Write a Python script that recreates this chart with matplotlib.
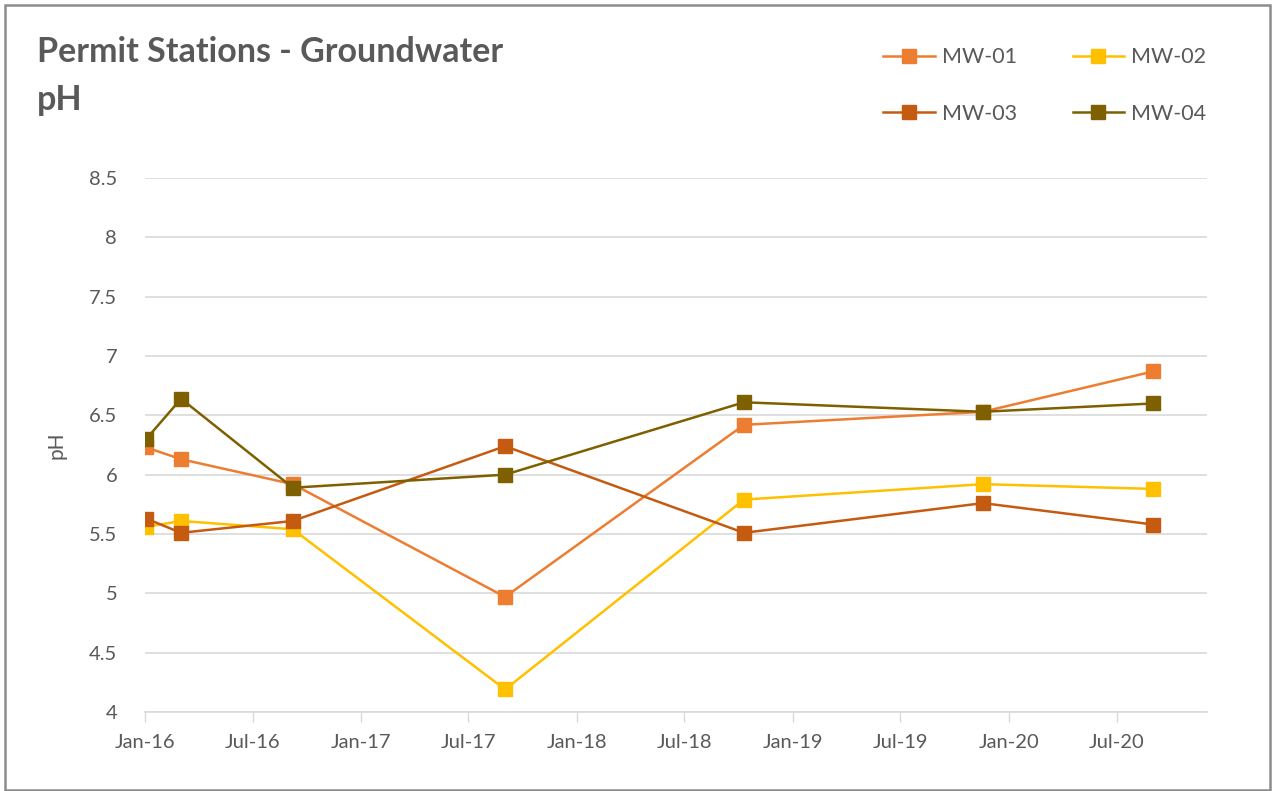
import matplotlib
matplotlib.use('Agg')
import numpy as np
import pandas as pd
import matplotlib.pyplot as plt
import matplotlib.dates as mdates
from matplotlib.patches import Rectangle

plt.rcParams['font.family'] = ['Lato', 'DejaVu Sans']

# sample dates
dates = pd.to_datetime(['2016-01-03', '2016-03-02', '2016-09-07', '2017-09-01',
                        '2018-10-10', '2019-11-18', '2020-09-01'])

mw01 = [6.23, 6.13, 5.92, 4.97, 6.42, 6.53, 6.87]
mw02 = [5.56, 5.61, 5.54, 4.19, 5.79, 5.92, 5.88]
mw03 = [5.63, 5.51, 5.61, 6.24, 5.51, 5.76, 5.58]
mw04 = [6.30, 6.64, 5.89, 6.00, 6.61, 6.53, 6.60]

series_names = ['MW-01', 'MW-02', 'MW-03', 'MW-04']
series_colors = ['#ED7D31', '#FFC000', '#C55A11', '#7F6000']

tick_dates = pd.date_range('2016-01-01', '2020-07-01', freq='6MS')
y_ticks = [4, 4.5, 5, 5.5, 6, 6.5, 7, 7.5, 8, 8.5]
y_labels = ['4', '4.5', '5', '5.5', '6', '6.5', '7', '7.5', '8', '8.5']

W, H = 1275, 791
fig = plt.figure(figsize=(W / 100, H / 100), dpi=100)
ax = fig.add_axes([145 / W, 1 - 712 / H, (1207 - 145) / W, (712 - 178) / H])

text_col = '#595959'
grid_col = '#D9D9D9'

lines = []
for vals, name, col in zip([mw01, mw02, mw03, mw04], series_names, series_colors):
    ln, = ax.plot(dates, vals, color=col, lw=1.8, marker='s', markersize=10,
                  markeredgecolor=col, label=name, zorder=3)
    lines.append(ln)

ax.set_xlim(pd.Timestamp('2016-01-01'), pd.Timestamp('2020-12-01'))
ax.set_ylim(4, 8.5)
ax.set_yticks(y_ticks)
ax.set_yticklabels(y_labels)
ax.set_xticks(tick_dates)
ax.xaxis.set_major_formatter(mdates.DateFormatter('%b-%y'))

ax.grid(axis='y', color=grid_col, lw=1.2)
ax.set_axisbelow(True)
for s in ['top', 'right', 'left']:
    ax.spines[s].set_visible(False)
ax.spines['bottom'].set_color(grid_col)
ax.spines['bottom'].set_linewidth(1.2)
ax.tick_params(axis='y', length=0, pad=20, labelsize=14.5, labelcolor=text_col)
ax.tick_params(axis='x', length=7, color=grid_col, width=1, pad=9,
               labelsize=14.5, labelcolor=text_col)

ax.set_ylabel('pH', fontsize=15, color=text_col, labelpad=16)

fig.text(37 / W, 1 - 52 / H, 'Permit Stations - Groundwater', fontsize=24.5,
         fontweight='bold', color=text_col, va='center', ha='left')
fig.text(37 / W, 1 - 100 / H, 'pH', fontsize=24.5, fontweight='bold',
         color=text_col, va='center', ha='left')

# row-wise legend order: MW-01 MW-02 / MW-03 MW-04
order = [0, 2, 1, 3]
fig.legend([lines[i] for i in order], [series_names[i] for i in order],
           loc='upper left', bbox_to_anchor=(864 / W, 1 - 28 / H), ncol=2,
           frameon=False, fontsize=15.5, labelcolor=text_col, handlelength=2.4,
           handletextpad=0.3, columnspacing=2.6, labelspacing=1.7)

fig.patches.append(Rectangle((5 / W, 1 - 790 / H), 1265 / W, 785 / H,
                             transform=fig.transFigure, fill=False,
                             edgecolor='#8C8C8C', lw=1.8))

fig.savefig('out.png', dpi=100)
